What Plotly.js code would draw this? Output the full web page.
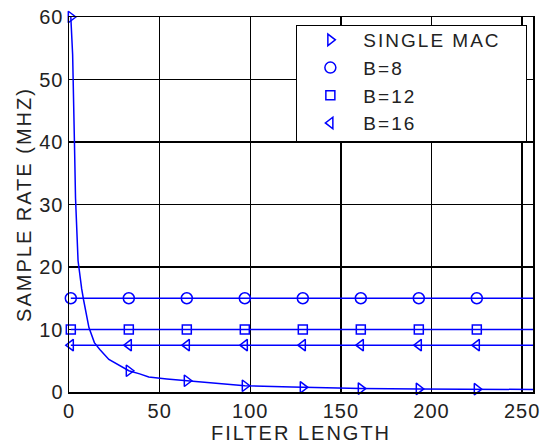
<!DOCTYPE html>
<html>
<head>
<meta charset="utf-8">
<script src="https://cdn.plot.ly/plotly-3.0.1.min.js"></script>
<style>
html,body{margin:0;padding:0;background:#fff;}
#chart{width:540px;height:447px;}
#chart .xtick text, #chart .ytick text { letter-spacing: 1px; }
#chart .legendtext, #chart .g-xtitle text, #chart .g-ytitle text { letter-spacing: 2px; }
</style>
</head>
<body>
<div id="chart"></div>
<script>
// Single MAC curve
const macX = [1, 2, 3, 3.6, 5, 6, 7, 8, 9.5, 11, 14, 17, 22, 27, 33, 39, 44, 54, 65, 79, 97, 123, 129, 151, 161, 193, 225, 256];
const macY = [60, 54, 40, 31, 21, 18.5, 16.5, 14.8, 12.7, 10.3, 7.9, 6.8, 5.2, 4.4, 3.4, 2.9, 2.4, 2.1, 1.8, 1.5, 1.0, 0.8, 0.75, 0.6, 0.55, 0.5, 0.45, 0.4];
// Marker positions
const markX = [1, 33, 65, 97, 129, 161, 193, 225];
const macMarkY = [60, 3.4, 1.8, 1.0, 0.75, 0.55, 0.5, 0.45];
// Flat series
const lineX = [1, 256];
const b8Val = 15;
const b12Val = 10;
const b16Val = 7.5;
const seriesNames = ['SINGLE MAC', 'B=8', 'B=12', 'B=16'];
const xTicks = [0, 50, 100, 150, 200, 250];
const yTicks = [0, 10, 20, 30, 40, 50, 60];

const blue = '#0000ff';
const fill = (v, n) => Array(n).fill(v);

function pair(name, lx, ly, mx, my, symbol, size) {
  return [
    {x: lx, y: ly, mode: 'lines', line: {color: blue, width: 1.5}, showlegend: false, hoverinfo: 'skip'},
    {x: mx, y: my, mode: 'markers', name: name, cliponaxis: false,
     marker: {symbol: symbol, size: size, color: blue, line: {color: blue, width: 1.5}}}
  ];
}

const data = [].concat(
  pair(seriesNames[0], macX, macY, markX, macMarkY, 'triangle-right-open', 10),
  pair(seriesNames[1], lineX, fill(b8Val, 2), markX, fill(b8Val, markX.length), 'circle-open', 11),
  pair(seriesNames[2], lineX, fill(b12Val, 2), markX, fill(b12Val, markX.length), 'square-open', 9),
  pair(seriesNames[3], lineX, fill(b16Val, 2), markX, fill(b16Val, markX.length), 'triangle-left-open', 10)
);

const font = {family: 'Liberation Sans, Arial, sans-serif', size: 20, color: '#222'};
const legFont = {family: 'Liberation Sans, Arial, sans-serif', size: 19, color: '#222'};
const axisCommon = {
  showgrid: true, gridcolor: '#000', gridwidth: 1.3,
  showline: true, mirror: true, linecolor: '#000', linewidth: 1.5,
  zeroline: false, ticks: '', tickfont: font, automargin: false
};

const layout = {
  width: 540, height: 447,
  margin: {l: 69, r: 7, t: 17, b: 55},
  paper_bgcolor: '#fff', plot_bgcolor: '#fff',
  font: font,
  showlegend: true,
  legend: {
    x: 0.49, y: 0.992, xanchor: 'left', yanchor: 'top',
    bgcolor: '#fff', bordercolor: '#000', borderwidth: 1,
    font: legFont, itemwidth: 56, tracegroupgap: 0
  },
  xaxis: Object.assign({}, axisCommon, {
    range: [0, 256], tickvals: xTicks, ticktext: xTicks.map(String),
    title: {text: 'FILTER LENGTH', font: font, standoff: 4}
  }),
  yaxis: Object.assign({}, axisCommon, {
    range: [0, 60], tickvals: yTicks, ticktext: yTicks.map(String),
    title: {text: 'SAMPLE RATE (MHZ)', font: font, standoff: 4}
  })
};

Plotly.newPlot('chart', data, layout, {staticPlot: true, displayModeBar: false}).then(function (gd) {
  // widen / trim legend frame to fit the letter-spaced text like the reference box
  const bg = gd.querySelector('.legend rect.bg');
  if (bg) {
    const y = parseFloat(bg.getAttribute('y') || 0);
    const h = parseFloat(bg.getAttribute('height'));
    bg.setAttribute('width', 230);
    bg.setAttribute('y', y + 5);
    bg.setAttribute('height', h - 6);
  }
  gd.querySelectorAll('clipPath[id^="legend"] rect').forEach(function (r) {
    r.setAttribute('width', 230);
  });
});
</script>
</body>
</html>
